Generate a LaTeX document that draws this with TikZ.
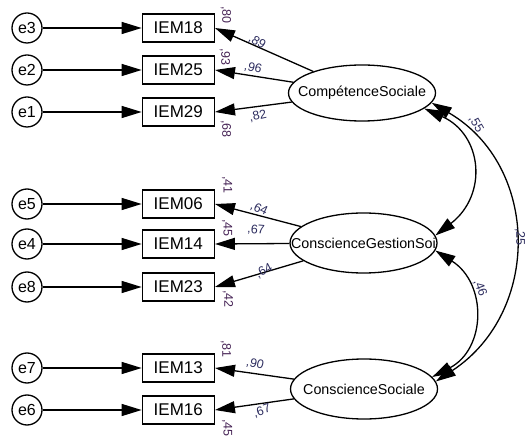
\documentclass[tikz,border=0pt]{standalone}
\usepackage{fontspec}
\setmainfont{Liberation Sans}
\usepackage{xcolor}
\usetikzlibrary{arrows.meta,positioning,shapes.geometric}
\definecolor{ldc}{RGB}{45,45,95}
\definecolor{sqc}{RGB}{70,35,85}

\begin{document}
\begin{tikzpicture}[
  x=1pt,y=1pt,
  err/.style={circle,draw,line width=1.3pt,minimum size=30pt,inner sep=0pt,font=\fontsize{16}{16}\selectfont},
  obs/.style={draw,line width=1.3pt,minimum width=72pt,minimum height=28pt,inner sep=0pt,font=\fontsize{17}{17}\selectfont},
  lat/.style={ellipse,draw,line width=1.3pt,minimum width=147pt,minimum height=57pt,inner sep=0pt},
  lattxt/.style={inner sep=0pt,font=\fontsize{14.3}{14.3}\selectfont},
  arr/.style={-{Triangle[length=20pt,width=12pt]},line width=1.3pt},
  cov/.style={{Triangle[length=20pt,width=12pt]}-{Triangle[length=20pt,width=12pt]},line width=1.3pt},
  ld/.style={font=\fontsize{12.5}{12.5}\selectfont,text=ldc,inner sep=0pt},
  sq/.style={font=\fontsize{12.5}{12.5}\selectfont,text=sqc,inner sep=0pt,rotate=-90}
]
\useasboundingbox (0,0) rectangle (526,436);
% errors and indicators
\node[err] (e3) at (27,408) {e3};
\node[err] (e2) at (27,366) {e2};
\node[err] (e1) at (27,324) {e1};
\node[err] (e5) at (27,232) {e5};
\node[err] (e4) at (27,192) {e4};
\node[err] (e8) at (27,149) {e8};
\node[err] (e7) at (27,68) {e7};
\node[err] (e6) at (27,26) {e6};
\node[obs,right=99pt of e3] (i18) {IEM18};
\node[obs,right=99pt of e2] (i25) {IEM25};
\node[obs,right=99pt of e1] (i29) {IEM29};
\node[obs,right=99pt of e5] (i06) {IEM06};
\node[obs,right=99pt of e4] (i14) {IEM14};
\node[obs,right=99pt of e8] (i23) {IEM23};
\node[obs,right=99pt of e7] (i13) {IEM13};
\node[obs,right=99pt of e6] (i16) {IEM16};
% latent factors
\node[lat,minimum height=56pt] (cs) at (362,343) {};
\node[lat,minimum height=60pt] (cgs) at (363.5,193) {};
\node[lat,minimum height=60pt] (cso) at (364,47) {};
\node[lattxt] (cstxt) at (cs) {CompétenceSociale};
\node[lattxt] (cgstxt) at (cgs) {ConscienceGestionSoi};
\node[lattxt] (csotxt) at (cso) {ConscienceSociale};
\draw[arr] (e3)--(i18);
\draw[arr] (e2)--(i25);
\draw[arr] (e1)--(i29);
\draw[arr] (e5)--(i06);
\draw[arr] (e4)--(i14);
\draw[arr] (e8)--(i23);
\draw[arr] (e7)--(i13);
\draw[arr] (e6)--(i16);
\draw[arr] (cs)--(i18.east);
\draw[arr] (cs)--(i25.east);
\draw[arr] (cs)--(i29.east);
\draw[arr] (cgs)--(i06.east);
\draw[arr] (cgs)--(i14.east);
\draw[arr] (cgs)--(i23.east);
\draw[arr] (cso)--(i13.east);
\draw[arr] (cso)--(i16.east);
% covariances
\draw[cov] (cs.-14) .. controls +(58,-26) and +(53,41) .. (cgs.6);
\draw[cov] (cgs.-6) .. controls +(52,-33) and +(54,28) .. (cso.10);
\draw[cov] (cs.-8) .. controls +(108,-63) and +(106,70) .. (cso.6);
% estimates
\node[ld,rotate=-33] (l89) at (257,394) {,89};
\node[ld,rotate=-15] (l96) at (253,368) {,96};
\node[ld,rotate=12] (l82) at (258,320) {,82};
\node[ld,rotate=-25] (l64a) at (259,227) {,64};
\node[ld,rotate=-5] (l67a) at (256,206) {,67};
\node[ld,rotate=28] (l64b) at (264,165) {,64};
\node[ld,rotate=-15] (l90) at (255,72) {,90};
\node[ld,rotate=18] (l67b) at (262,25) {,67};
\node[ld,rotate=-60] (l55) at (476,312) {,55};
\node[ld,rotate=-90] (l25) at (520,199) {,25};
\node[ld,rotate=-70] (l46) at (480,148) {,46};
\node[sq] (r18) at (226,421) {,80};
\node[sq] (r25) at (225,379) {,93};
\node[sq] (r29) at (226,307) {,68};
\node[sq] (r06) at (227,251) {,41};
\node[sq] (r14) at (227,208) {,45};
\node[sq] (r23) at (228,137) {,42};
\node[sq] (r13) at (226,87) {,81};
\node[sq] (r16) at (227,8) {,45};
\end{tikzpicture}
\end{document}
